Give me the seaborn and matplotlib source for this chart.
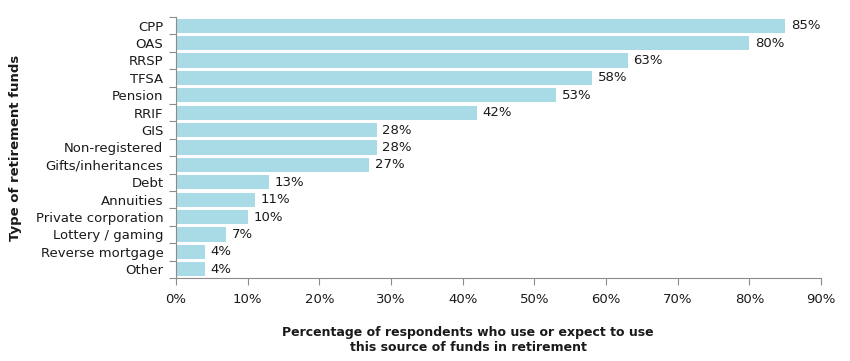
import matplotlib
matplotlib.use("Agg")
import matplotlib.pyplot as plt
import seaborn as sns
import pandas as pd
import numpy as np
from matplotlib.ticker import FixedLocator, PercentFormatter

# -- Data ---------------------------------------------------------------------
categories = [
    "CPP", "OAS", "RRSP", "TFSA", "Pension", "RRIF", "GIS", "Non-registered",
    "Gifts/inheritances", "Debt", "Annuities", "Private corporation",
    "Lottery / gaming", "Reverse mortgage", "Other",
]
values = [85, 80, 63, 58, 53, 42, 28, 28, 27, 13, 11, 10, 7, 4, 4]
x_ticks = [0, 10, 20, 30, 40, 50, 60, 70, 80, 90]

BAR_COLOR = "#a9dbe6"
SPINE_COLOR = "#8c8c8c"
TEXT_COLOR = "#1a1a1a"

sns.set_theme(style="white")
plt.rcParams["font.family"] = ["DejaVu Sans"]

df = pd.DataFrame({"fund": categories, "pct": values})

fig = plt.figure(figsize=(8.5, 3.61), dpi=100)
ax = fig.add_axes([0.207, 0.23, 0.759, 0.723])

sns.barplot(data=df, y="fund", x="pct", color=BAR_COLOR, width=0.82,
            saturation=1, linewidth=0, ax=ax, orient="h")

# value labels
for i, v in enumerate(values):
    ax.text(v + 0.8, i, f"{v}%", va="center", ha="left", fontsize=9.5, color=TEXT_COLOR)

ax.set_xlim(0, 90)
ax.set_ylim(len(categories) - 0.5, -0.5)
ax.set_xticks(x_ticks)
ax.xaxis.set_major_formatter(PercentFormatter(decimals=0))

# y ticks sit on category boundaries
ax.yaxis.set_minor_locator(FixedLocator(np.arange(-0.5, len(categories), 1.0)))
ax.tick_params(axis="y", which="major", length=0, labelsize=9.5, pad=9, colors=TEXT_COLOR)
ax.tick_params(axis="y", which="minor", length=5, width=0.8, color=SPINE_COLOR, left=True)
ax.tick_params(axis="x", which="major", length=5, width=0.8, color=SPINE_COLOR,
               bottom=True, labelsize=9.5, pad=6, labelcolor=TEXT_COLOR)

sns.despine(ax=ax)
for side in ("left", "bottom"):
    ax.spines[side].set_color(SPINE_COLOR)
    ax.spines[side].set_linewidth(0.8)

ax.set_ylabel("Type of retirement funds", fontsize=9.5, fontweight="bold", color=TEXT_COLOR)
ax.set_xlabel("Percentage of respondents who use or expect to use\nthis source of funds in retirement",
              fontsize=9, fontweight="bold", color=TEXT_COLOR, va="top")
ax.yaxis.set_label_coords(-0.238, 0.5)
ax.xaxis.set_label_coords(0.453, -0.185)

fig.savefig("out.png", dpi=100)
plt.close(fig)
